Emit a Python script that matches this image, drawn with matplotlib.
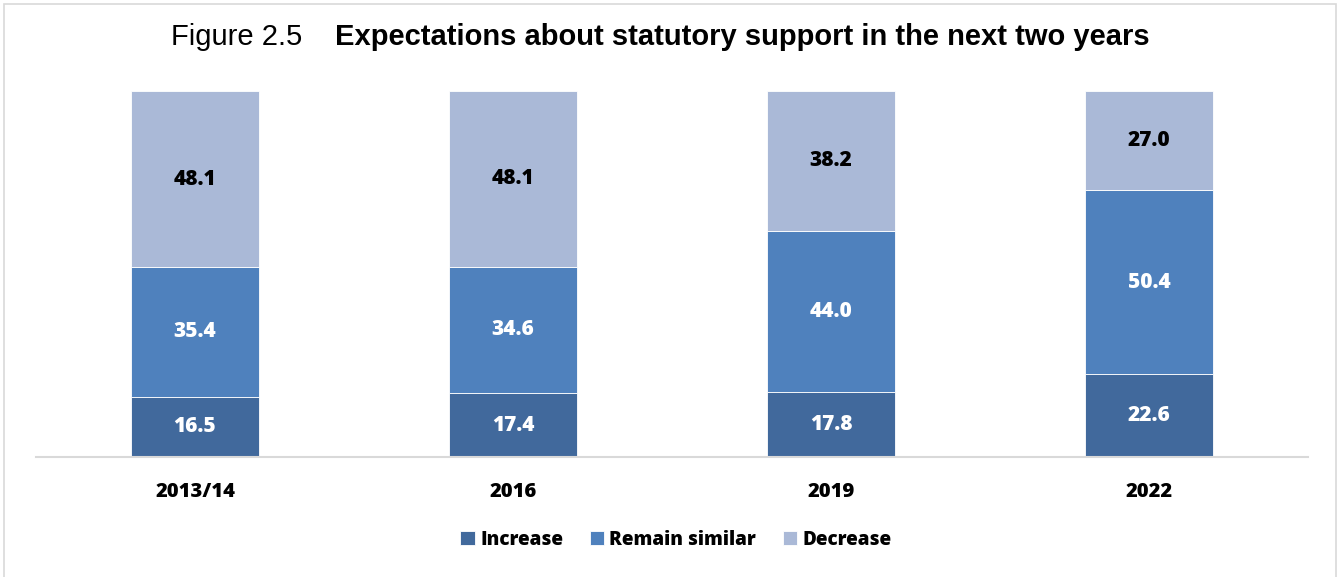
import numpy as np
import matplotlib.pyplot as plt
from matplotlib.patches import Rectangle

years = ["2013/14", "2016", "2019", "2022"]
increase = [16.5, 17.4, 17.8, 22.6]
remain_similar = [35.4, 34.6, 44.0, 50.4]
decrease = [48.1, 48.1, 38.2, 27.0]

series = [
    ("Increase", increase, "#41699C", "white"),
    ("Remain similar", remain_similar, "#4F81BD", "white"),
    ("Decrease", decrease, "#AAB9D7", "black"),
]

LABEL_FONT = "Open Sans"
LABEL_WEIGHT = "heavy"

W, H = 1338, 577
fig = plt.figure(figsize=(W / 100, H / 100), dpi=100)
ax = fig.add_axes([36 / W, 1 - 457 / H, 1272 / W, 366 / H])

x = np.arange(len(years))
bottom = np.zeros(len(years))
for name, vals, color, txt in series:
    vals = np.array(vals)
    bars = ax.bar(x, vals, 0.4, bottom=bottom, color=color, label=name,
                  edgecolor="white", linewidth=0.6, clip_on=False)
    for b, v, b0 in zip(bars, vals, bottom):
        ax.text(b.get_x() + b.get_width() / 2, b0 + v / 2, f"{v:.1f}",
                ha="center", va="center", color=txt, fontsize=15,
                fontweight=LABEL_WEIGHT, family=LABEL_FONT)
    bottom += vals

ax.set_xlim(-0.5, len(years) - 0.5)
ax.set_ylim(0, 100)
ax.set_yticks([])
ax.set_xticks(x)
ax.set_xticklabels(years, fontsize=14.5, fontweight=LABEL_WEIGHT, family=LABEL_FONT)
ax.tick_params(axis="x", length=0, pad=18)
for s in ["top", "left", "right"]:
    ax.spines[s].set_visible(False)
ax.spines["bottom"].set_color("#D9D9D9")
ax.spines["bottom"].set_linewidth(1.5)

# title: plain figure number followed by bold caption
ty = 1 - 37 / H
fig.text(302 / W, ty, "Figure 2.5", ha="right", va="center",
         fontsize=21, family="Liberation Sans")
fig.text(335 / W, ty, "Expectations about statutory support in the next two years",
         ha="left", va="center", fontsize=21, fontweight="bold",
         family="Liberation Sans")

leg = fig.legend(loc="center", bbox_to_anchor=(676 / W, 1 - 540 / H), ncol=3,
                 frameon=False, handlelength=0.75, handleheight=0.75,
                 handletextpad=0.3, columnspacing=1.4,
                 prop={"family": LABEL_FONT, "weight": LABEL_WEIGHT, "size": 13.6})

# light frame around the whole chart
fig.patches.append(Rectangle((4 / W, -0.05), 1332 / W, 1.05 - 4 / H,
                             transform=fig.transFigure, fill=False,
                             edgecolor="#D9D9D9", linewidth=1.2))

fig.savefig("out.png", dpi=100)
